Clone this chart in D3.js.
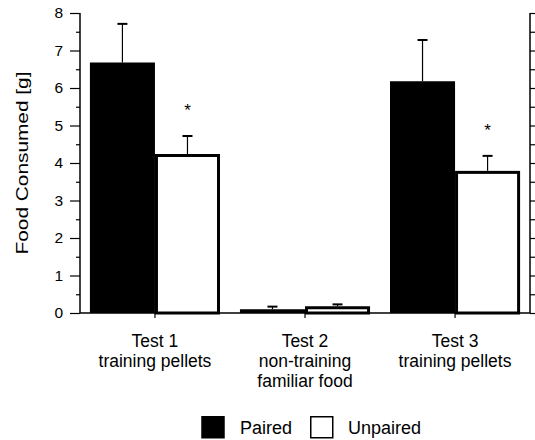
<!DOCTYPE html>
<html>
<head>
<meta charset="utf-8">
<script src="https://cdn.jsdelivr.net/npm/d3@7"></script>
<style>
  body { margin: 0; background: #fff; }
  text { font-family: "Liberation Sans", Arial, sans-serif; fill: #000; }
</style>
</head>
<body>
<div id="chart"></div>
<script>
// data
const tests = ['Test 1', 'Test 2', 'Test 3'];
const testLabels = [
    ['Test 1', 'training pellets'],
    ['Test 2', 'non-training', 'familiar food'],
    ['Test 3', 'training pellets']
];
const groups = ['Paired', 'Unpaired'];
const pairedMean = [6.68, 0.1, 6.18];
const pairedErr = [1.03, 0.07, 1.1];
const unpairedMean = [4.24, 0.18, 3.79];
const unpairedErr = [0.48, 0.05, 0.4];
const unpairedStars = [true, false, true];
const yTicks = [0, 1, 2, 3, 4, 5, 6, 7, 8];

const width = 535;
const height = 440;
const margin = {top: 13, right: 5, bottom: 127, left: 80};
const plotW = width - margin.left - margin.right;
const plotH = height - margin.top - margin.bottom;

const svg = d3.select('#chart').append('svg')
    .attr('width', width)
    .attr('height', height);

const g = svg.append('g')
    .attr('transform', `translate(${margin.left},${margin.top})`);

const x = d3.scaleBand().domain(tests).range([0, plotW]).paddingInner(0.133).paddingOuter(0.066);
const xSub = d3.scaleBand().domain(groups).range([0, x.bandwidth()]);
const y = d3.scaleLinear().domain([0, 8]).range([plotH, 0]);

// rows for drawing
let rows = [];
tests.forEach((t, i) => {
    rows.push({test: t, group: 'Paired', v: pairedMean[i], e: pairedErr[i], star: false});
    rows.push({test: t, group: 'Unpaired', v: unpairedMean[i], e: unpairedErr[i], star: unpairedStars[i]});
});

// error bars (behind bars)
rows.forEach(d => {
    let cx = x(d.test) + xSub(d.group) + xSub.bandwidth() / 2;
    g.append('line')
        .attr('x1', cx).attr('x2', cx)
        .attr('y1', y(d.v)).attr('y2', y(d.v + d.e))
        .attr('stroke', '#000').attr('stroke-width', 1.2);
    g.append('line')
        .attr('x1', cx - 5).attr('x2', cx + 5)
        .attr('y1', y(d.v + d.e)).attr('y2', y(d.v + d.e))
        .attr('stroke', '#000').attr('stroke-width', 2);
});

// bars
g.selectAll('rect.bar')
    .data(rows)
    .enter()
    .append('rect')
    .attr('class', 'bar')
    .attr('x', d => x(d.test) + xSub(d.group) + (d.group === 'Unpaired' ? 1.5 : 0))
    .attr('y', d => y(d.v) + (d.group === 'Unpaired' ? 1.5 : 0))
    .attr('width', d => xSub.bandwidth() - (d.group === 'Unpaired' ? 3 : 0))
    .attr('height', d => Math.max(0, plotH - y(d.v) - (d.group === 'Unpaired' ? 1.5 : 0)))
    .attr('fill', d => d.group === 'Paired' ? '#000' : '#fff')
    .attr('stroke', d => d.group === 'Unpaired' ? '#000' : 'none')
    .attr('stroke-width', 3);

// asterisks
rows.filter(d => d.star).forEach(d => {
    let cx = x(d.test) + xSub(d.group) + xSub.bandwidth() / 2;
    g.append('text')
        .attr('x', cx)
        .attr('y', y(d.v + d.e) - 20)
        .attr('text-anchor', 'middle')
        .attr('font-size', '17px')
        .text('*');
});

// left axis: major ticks with labels, minor ticks at half units
const yMinor = d3.range(0.5, 8, 1);
const leftAxis = g.append('g');
leftAxis.append('g')
    .call(d3.axisLeft(y).tickValues(yTicks).tickSize(10).tickPadding(7).tickFormat(d3.format('d')))
    .call(a => a.select('.domain').remove())
    .call(a => a.selectAll('text').attr('font-size', '15.5px').attr('font-family', '"Liberation Sans", Arial, sans-serif'));
leftAxis.append('g')
    .call(d3.axisLeft(y).tickValues(yMinor).tickSize(4).tickFormat(''))
    .call(a => a.select('.domain').remove());
leftAxis.append('line')
    .attr('x1', 0).attr('x2', 0).attr('y1', 0).attr('y2', plotH)
    .attr('stroke', '#000').attr('stroke-width', 1.5);

// right axis: ticks every half unit pointing right, no labels
const rightAxis = g.append('g').attr('transform', `translate(${plotW},0)`);
rightAxis.call(d3.axisRight(y).tickValues(d3.range(0, 8.01, 0.5)).tickSize(5).tickFormat(''))
    .call(a => a.select('.domain').remove());
rightAxis.append('line')
    .attr('x1', 0).attr('x2', 0).attr('y1', 0).attr('y2', plotH)
    .attr('stroke', '#000').attr('stroke-width', 1.5);

g.selectAll('.tick line').attr('stroke', '#000').attr('stroke-width', 1.2);

// x axis
const xAxis = g.append('g').attr('transform', `translate(0,${plotH})`);
xAxis.call(d3.axisBottom(x).tickSize(5).tickFormat(''))
    .call(a => a.select('.domain').remove());
xAxis.selectAll('.tick line').attr('stroke', '#000').attr('stroke-width', 1.2);
xAxis.append('line')
    .attr('x1', 0).attr('x2', plotW).attr('y1', 0).attr('y2', 0)
    .attr('stroke', '#000').attr('stroke-width', 1.5);

// category labels
tests.forEach((t, i) => {
    let text = g.append('text')
        .attr('text-anchor', 'middle')
        .attr('font-size', '17.5px')
        .attr('x', x(t) + x.bandwidth() / 2)
        .attr('y', plotH + 34);
    text.selectAll('tspan')
        .data(testLabels[i])
        .enter()
        .append('tspan')
        .attr('x', x(t) + x.bandwidth() / 2)
        .attr('dy', (d, j) => j === 0 ? 0 : 20)
        .text(d => d);
});

// y label
svg.append('text')
    .attr('transform', `translate(28,${margin.top + 150}) rotate(-90)`)
    .attr('text-anchor', 'middle')
    .attr('font-size', '17px')
    .attr('textLength', 183)
    .attr('lengthAdjust', 'spacingAndGlyphs')
    .text('Food Consumed [g]');

// legend
const legend = svg.append('g').attr('transform', 'translate(202,416)');
const legendX = [0, 108];
groups.forEach((grp, i) => {
    legend.append('rect')
        .attr('x', legendX[i] + (i ? 0.75 : 0))
        .attr('y', 0.75)
        .attr('width', 22)
        .attr('height', 21)
        .attr('fill', i ? '#fff' : '#000')
        .attr('stroke', '#000')
        .attr('stroke-width', 1.5);
    legend.append('text')
        .attr('x', legendX[i] + 38)
        .attr('y', 18)
        .attr('font-size', '18px')
        .text(grp);
});
</script>
</body>
</html>
